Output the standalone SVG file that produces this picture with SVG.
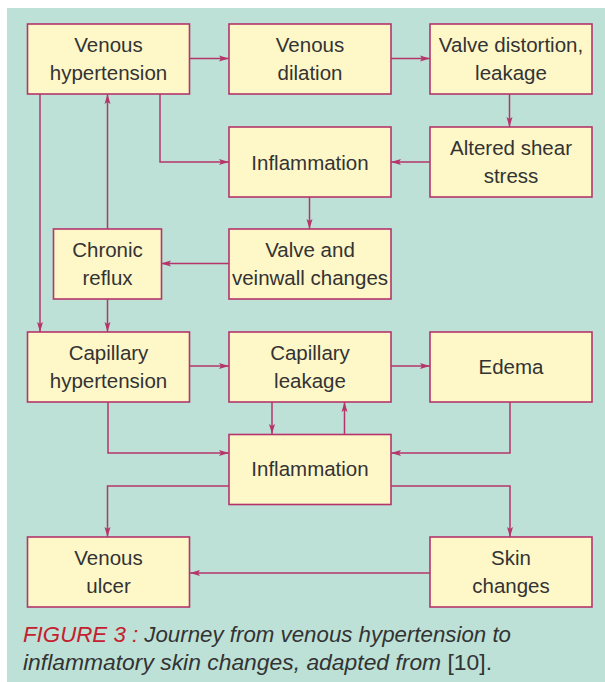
<svg xmlns="http://www.w3.org/2000/svg" width="605" height="682" viewBox="0 0 605 682">
<defs>
<style>
.box{fill:#fef7c8;stroke:#b5356b;stroke-width:1.6}
.t{font-family:"Liberation Sans",Arial,sans-serif;font-size:20.5px;fill:#333333;text-anchor:middle}
.c{fill:none;stroke:#b5356b;stroke-width:1.5}
.cap{font-family:"Liberation Sans",Arial,sans-serif;font-size:22px;fill:#333333;font-style:italic}
</style>
<marker id="ah" viewBox="0 0 10 7" refX="10" refY="3.5" markerWidth="10" markerHeight="7" markerUnits="userSpaceOnUse" orient="auto">
<path d="M0,0.5 L10,3.5 L0,6.5 L2,3.5 Z" fill="#b5356b"/>
</marker>
</defs>
<rect x="0" y="0" width="605" height="682" fill="#ffffff"/>
<rect x="7" y="8" width="598" height="674" fill="#bde1d6"/>

<g id="connectors">
<path class="c" d="M190,58.5 H229" marker-end="url(#ah)"/>
<path class="c" d="M391,58.5 H430" marker-end="url(#ah)"/>
<path class="c" d="M509.5,94 V127" marker-end="url(#ah)"/>
<path class="c" d="M430,162 H391" marker-end="url(#ah)"/>
<path class="c" d="M160,94 V162 H229" marker-end="url(#ah)"/>
<path class="c" d="M40,94 V332" marker-end="url(#ah)"/>
<path class="c" d="M107.5,229 V94" marker-end="url(#ah)"/>
<path class="c" d="M309.5,197 V229" marker-end="url(#ah)"/>
<path class="c" d="M229,263.5 H161" marker-end="url(#ah)"/>
<path class="c" d="M107.5,299 V332" marker-end="url(#ah)"/>
<path class="c" d="M190,366 H229" marker-end="url(#ah)"/>
<path class="c" d="M391,366 H430" marker-end="url(#ah)"/>
<path class="c" d="M272,402 V434" marker-end="url(#ah)"/>
<path class="c" d="M344.5,434 V402" marker-end="url(#ah)"/>
<path class="c" d="M108,402 V453 H229" marker-end="url(#ah)"/>
<path class="c" d="M510,402 V453 H391" marker-end="url(#ah)"/>
<path class="c" d="M229,486 H107.5 V537" marker-end="url(#ah)"/>
<path class="c" d="M391,486 H510 V537" marker-end="url(#ah)"/>
<path class="c" d="M430,573 H190" marker-end="url(#ah)"/>
</g>

<g id="venous-hypertension">
<rect class="box" x="27.5" y="24" width="162" height="70"/>
<text class="t" x="108.5" y="52">Venous</text>
<text class="t" x="108.5" y="80">hypertension</text>
</g>
<g id="venous-dilation">
<rect class="box" x="229" y="24" width="162" height="70"/>
<text class="t" x="310" y="52">Venous</text>
<text class="t" x="310" y="80">dilation</text>
</g>
<g id="valve-distortion">
<rect class="box" x="430" y="24" width="162" height="70"/>
<text class="t" x="511" y="52">Valve distortion,</text>
<text class="t" x="511" y="80">leakage</text>
</g>
<g id="inflammation-1">
<rect class="box" x="229" y="127" width="162" height="70"/>
<text class="t" x="310" y="170">Inflammation</text>
</g>
<g id="altered-shear-stress">
<rect class="box" x="430" y="127" width="162" height="70"/>
<text class="t" x="511" y="155">Altered shear</text>
<text class="t" x="511" y="183">stress</text>
</g>
<g id="chronic-reflux">
<rect class="box" x="53.5" y="229" width="108" height="70"/>
<text class="t" x="107.5" y="257">Chronic</text>
<text class="t" x="107.5" y="285">reflux</text>
</g>
<g id="valve-veinwall">
<rect class="box" x="229" y="229" width="162" height="70"/>
<text class="t" x="310" y="257">Valve and</text>
<text class="t" x="310" y="285">veinwall changes</text>
</g>
<g id="capillary-hypertension">
<rect class="box" x="27.5" y="332" width="162" height="70"/>
<text class="t" x="108.5" y="360">Capillary</text>
<text class="t" x="108.5" y="388">hypertension</text>
</g>
<g id="capillary-leakage">
<rect class="box" x="229" y="332" width="162" height="70"/>
<text class="t" x="310" y="360">Capillary</text>
<text class="t" x="310" y="388">leakage</text>
</g>
<g id="edema">
<rect class="box" x="430" y="332" width="162" height="70"/>
<text class="t" x="511" y="374">Edema</text>
</g>
<g id="inflammation-2">
<rect class="box" x="229" y="434.5" width="162" height="70"/>
<text class="t" x="310" y="476">Inflammation</text>
</g>
<g id="venous-ulcer">
<rect class="box" x="27.5" y="537" width="162" height="70"/>
<text class="t" x="108.5" y="565">Venous</text>
<text class="t" x="108.5" y="593">ulcer</text>
</g>
<g id="skin-changes">
<rect class="box" x="430" y="537" width="162" height="70"/>
<text class="t" x="511" y="565">Skin</text>
<text class="t" x="511" y="593">changes</text>
</g>

<g id="caption">
<text class="cap" x="23" y="642" textLength="488" lengthAdjust="spacingAndGlyphs"><tspan fill="#c4202f">FIGURE 3 :</tspan> Journey from venous hypertension to</text>
<text class="cap" x="23" y="670" textLength="469" lengthAdjust="spacingAndGlyphs">inflammatory skin changes, adapted from <tspan font-style="normal">[10].</tspan></text>
</g>
</svg>
